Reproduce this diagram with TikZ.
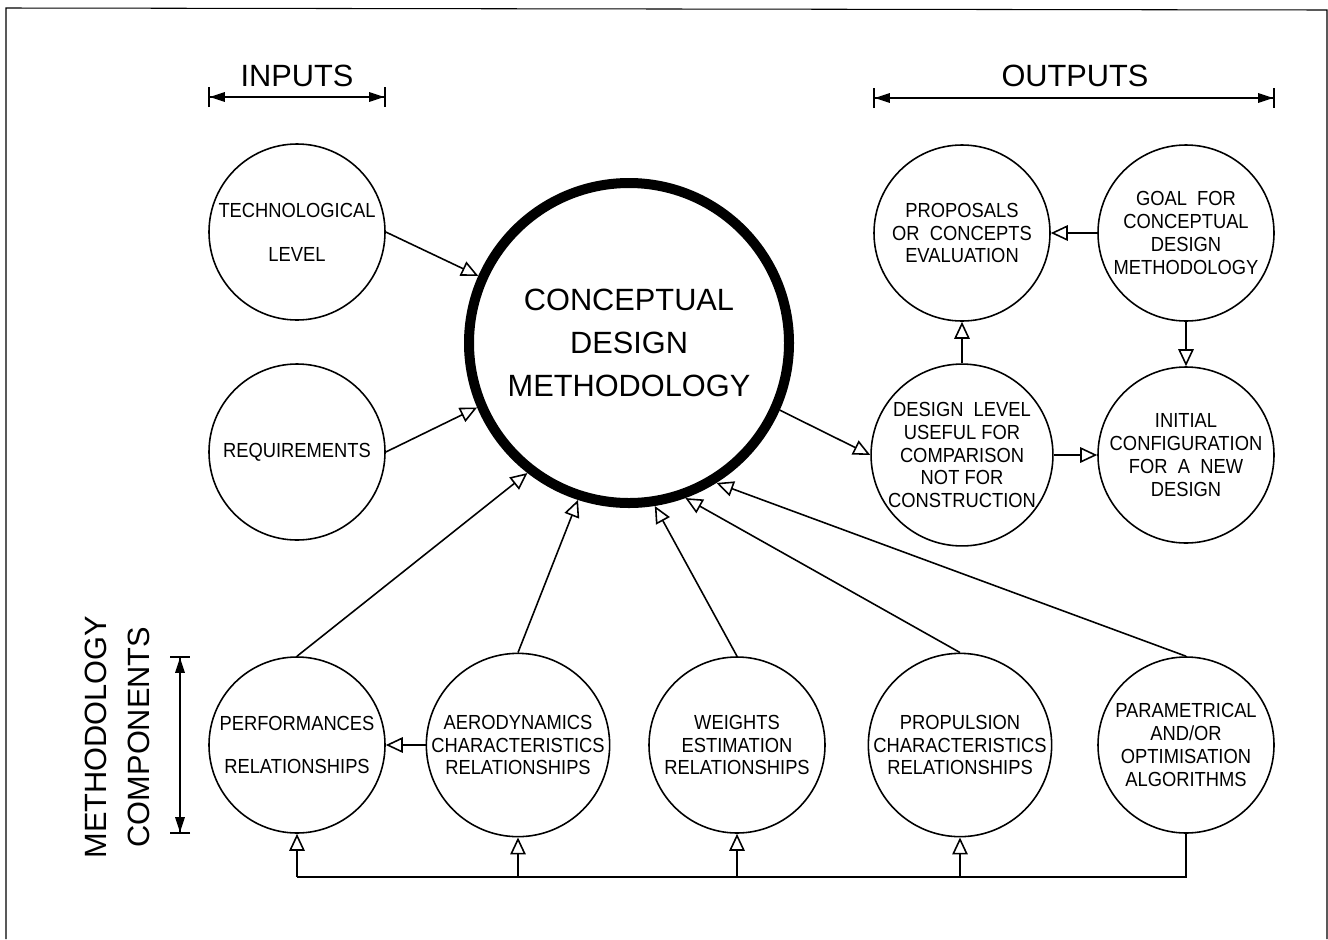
\documentclass[tikz,border=0pt]{standalone}
\usepackage{fontspec}
\setmainfont{Liberation Sans}
\newfontfamily\narrowsans[FakeStretch=0.9]{Liberation Sans}
\usetikzlibrary{arrows.meta}

\begin{document}
\begin{tikzpicture}[x=0.2mm, y=-0.2mm, line width=0.9pt,
    bigtext/.style={font=\fontsize{17.5}{24.5}\selectfont},
    comp/.style={circle, draw, minimum size=35.2mm, inner sep=0pt, align=center,
      font=\narrowsans\fontsize{11.6}{13}\selectfont},
    feed/.style={-{Triangle[open, length=3.4mm, width=3.1mm]}},
    dimline/.style={{Bar[width=4mm]Triangle[length=3mm, width=1.9mm]}-{Triangle[length=3mm, width=1.9mm]Bar[width=4mm]}}]
  \useasboundingbox (0,0) rectangle (1328,939);
  \draw[line width=0.6pt] (6,939) -- (6,8) -- (1327,10) -- (1327,939);

  % centre
  \node[circle, draw, line width=2mm, minimum size=64mm, inner sep=0pt, align=center, bigtext]
    (cdm) at (629,343) {CONCEPTUAL\\DESIGN\\METHODOLOGY};

  % inputs
  \node[comp] (tech) at (297,232) {TECHNOLOGICAL\\[12pt]LEVEL};
  \node[comp] (req)  at (297,452) {REQUIREMENTS};
  \node[bigtext] (inputs) at (297,76) {INPUTS};
  \coordinate (inY) at (0,97);
  \draw[dimline] (tech.west |- inY) -- (tech.east |- inY);

  % outputs
  \node[comp] (proposals) at (962,233) {PROPOSALS\\OR~~CONCEPTS\\EVALUATION};
  \node[comp] (goal)      at (1186,233) {GOAL~~FOR\\CONCEPTUAL\\DESIGN\\METHODOLOGY};
  \node[comp] (design)    at (962,455) {DESIGN~~LEVEL\\USEFUL FOR\\COMPARISON\\NOT FOR\\CONSTRUCTION};
  \node[comp] (initial)   at (1186,455) {INITIAL\\CONFIGURATION\\FOR~~A~~NEW\\DESIGN};
  \node[bigtext] (outputs) at (1075,76) {OUTPUTS};
  \coordinate (outY) at (0,98);
  \draw[dimline] (proposals.west |- outY) -- (goal.east |- outY);

  % methodology components
  \node[comp] (perf)    at (297,745)  {PERFORMANCES\\[12pt]RELATIONSHIPS};
  \node[comp] (aero)    at (518,745)  {AERODYNAMICS\\CHARACTERISTICS\\RELATIONSHIPS};
  \node[comp] (weights) at (737,745)  {WEIGHTS\\ESTIMATION\\RELATIONSHIPS};
  \node[comp] (prop)    at (960,745)  {PROPULSION\\CHARACTERISTICS\\RELATIONSHIPS};
  \node[comp] (param)   at (1186,745) {PARAMETRICAL\\AND/OR\\OPTIMISATION\\ALGORITHMS};
  \node[bigtext, rotate=90, align=center] (mclabel) at (117,737) {METHODOLOGY\\COMPONENTS};
  \coordinate (dimX) at (180,0);
  \draw[dimline] (perf.north -| dimX) -- (perf.south -| dimX);

  % links
  \draw[feed] (tech.east) -- (cdm.156);
  \draw[feed] (req.east) -- (cdm.203);
  \draw[feed] (cdm.336) -- (design.west);
  \draw[feed] (goal.west) -- (proposals.east);
  \draw[feed] (goal.south) -- (initial.north);
  \draw[feed] (design.north) -- (proposals.south);
  \draw[feed] (design.east) -- (initial.west);
  \draw[feed] (aero.west) -- (perf.east);
  \draw[feed] (perf.north) -- (cdm.232);
  \draw[feed] (aero.north) -- (cdm.252);
  \draw[feed] (weights.north) -- (cdm.279);
  \draw[feed] (prop.north) -- (cdm.290);
  \draw[feed] (param.north) -- (cdm.302);

  % feedback bus
  \coordinate (busL) at (297,877);
  \coordinate (busR) at (1186,877);
  \draw (param.south) -- (busR) -- (busL);
  \foreach \n in {perf, aero, weights, prop}
    \draw[feed] (\n.south |- busL) -- (\n.south);
\end{tikzpicture}
\end{document}
